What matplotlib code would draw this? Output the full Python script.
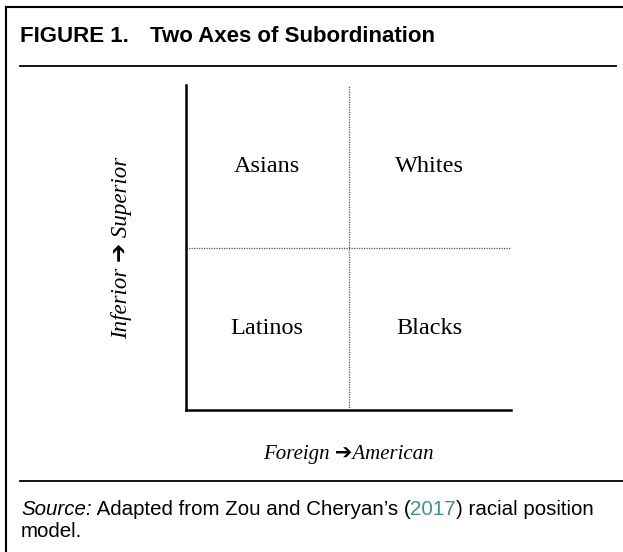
import matplotlib
matplotlib.use("Agg")
import matplotlib.pyplot as plt
from matplotlib.lines import Line2D

W, H = 623, 552
quadrant_labels = ["Asians", "Whites", "Latinos", "Blacks"]
quadrant_x = [0.5, 1.5, 0.5, 1.5]
quadrant_y = [1.5, 1.5, 0.5, 0.5]
x_label = "Foreign \u2794American"
y_label = "Inferior \u2794 Superior"
title_a = "FIGURE 1."
title_b = "Two Axes of Subordination"
source_parts = [("Source:", "italic", "black"), (" Adapted from Zou and Cheryan\u2019s (", "normal", "black"),
                ("2017", "normal", "#3f8f8f"), (") racial position", "normal", "black")]
source_line2 = "model."

fig = plt.figure(figsize=(W / 100, H / 100), dpi=100)

def fx(px):
    return px / W

def fy(py):
    return 1 - py / H

# frame lines
fig.add_artist(Line2D([fx(6), fx(6)], [fy(7), fy(552)], color="black", lw=1.5))
fig.add_artist(Line2D([fx(6), fx(623)], [fy(7), fy(7)], color="black", lw=1.5))
fig.add_artist(Line2D([fx(20), fx(616)], [fy(66), fy(66)], color="black", lw=1.3))
fig.add_artist(Line2D([fx(20), fx(623)], [fy(481), fy(481)], color="black", lw=1.3))

sans = "Liberation Sans"
serif = ["Liberation Serif", "DejaVu Sans"]
fig.text(fx(20), fy(37), title_a, fontsize=16, fontweight="bold", family=sans, va="center", ha="left")
fig.text(fx(150), fy(37), title_b, fontsize=16, fontweight="bold", family=sans, va="center", ha="left")

ax = fig.add_axes([fx(186), fy(410), fx(511) - fx(186), fy(85) - fy(410)])
ax.set_xlim(0, 2)
ax.set_ylim(0, 2)
for s in ["top", "right"]:
    ax.spines[s].set_visible(False)
ax.spines["left"].set_linewidth(1.8)
ax.spines["bottom"].set_linewidth(1.8)
ax.set_xticks([])
ax.set_yticks([])
ax.axvline(1, color="#555555", lw=0.9, ls=(0, (1, 1)))
ax.axhline(1, color="#555555", lw=0.9, ls=(0, (1, 1)))
for lab, x, y in zip(quadrant_labels, quadrant_x, quadrant_y):
    ax.text(x, y, lab, ha="center", va="center", fontsize=17.5, family=serif)

fig.text(fx(348), fy(455), x_label, fontsize=15, style="italic", family=serif, ha="center", va="center")
fig.text(fx(122), fy(248), y_label, fontsize=16.5, style="italic", family=serif, ha="center", va="center",
         rotation=90)

# source line with mixed styles
renderer = fig.canvas.get_renderer()
x0 = fx(21)
ybase = fy(515)
for txt, st, col in source_parts:
    t = fig.text(x0, ybase, txt, fontsize=14.8, style=st, color=col, family=sans, ha="left", va="baseline")
    bb = t.get_window_extent(renderer=renderer)
    x0 = bb.x1 / W
fig.text(fx(21), fy(537), source_line2, fontsize=14.8, family=sans, ha="left", va="baseline")

fig.savefig("out.png", dpi=100)
